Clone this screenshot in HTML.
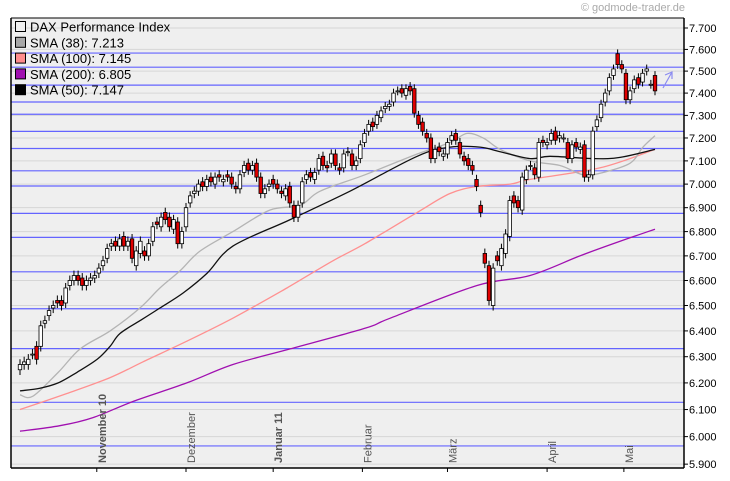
<!DOCTYPE html>
<html><head><meta charset="utf-8">
<style>
html,body{margin:0;padding:0;background:#fff;overflow:hidden;}
svg{display:block;font-family:"Liberation Sans",Arial,sans-serif;}
</style></head>
<body>
<svg id="chart" width="730" height="481" viewBox="0 0 730 481" xmlns="http://www.w3.org/2000/svg">
<rect x="0" y="0" width="730" height="481" fill="#ffffff"/>
<rect x="11" y="18" width="673" height="450" fill="#efefef"/>
<g id="grid"></g>
<g id="levels"></g>
<g id="smas"></g>
<g id="candles"></g>
<g id="axes"></g>
<text x="685" y="11" font-size="11" fill="#aaaaaa" text-anchor="end">© godmode-trader.de</text>
<path d="M663,88 L672,72 M665,75 L672,72 L672,79" stroke="#8c8cf0" stroke-width="1.2" fill="none"/>
<g id="legend"></g>
</svg>
<script>
const yTicks=[7.7,7.6,7.5,7.4,7.3,7.2,7.1,7.0,6.9,6.8,6.7,6.6,6.5,6.4,6.3,6.2,6.1,6.0,5.9];
const levelValues=[7.583,7.518,7.436,7.360,7.305,7.229,7.154,7.057,6.992,6.876,6.776,6.635,6.487,6.331,6.127,5.966];
const months=["November 10","Dezember","Januar 11","Februar","März","April","Mai"];
const monthIndex=[18.5,40,61,82.5,103,127,145.5];
const monthBold=[true,false,true,false,false,false,false];
const closes=[6.27,6.28,6.29,6.31,6.29,6.42,6.44,6.48,6.50,6.51,6.50,6.57,6.60,6.62,6.60,6.58,6.60,6.61,6.62,6.65,6.68,6.73,6.75,6.74,6.77,6.74,6.76,6.69,6.72,6.76,6.70,6.75,6.82,6.83,6.86,6.85,6.82,6.85,6.75,6.80,6.90,6.95,6.97,7.00,6.99,7.02,7.01,7.03,7.03,7.02,7.03,7.00,6.98,7.04,7.08,7.06,7.08,7.03,6.96,6.98,7.00,7.00,6.98,6.96,6.98,6.92,6.86,6.91,7.01,7.04,7.03,7.05,7.11,7.08,7.07,7.13,7.08,7.06,7.13,7.14,7.08,7.10,7.17,7.22,7.26,7.25,7.30,7.32,7.34,7.35,7.40,7.41,7.40,7.42,7.41,7.31,7.26,7.23,7.20,7.11,7.15,7.14,7.13,7.18,7.21,7.19,7.13,7.10,7.08,7.06,6.99,6.88,6.67,6.52,6.65,6.68,6.73,6.79,6.93,6.92,6.90,7.03,7.06,7.08,7.04,7.18,7.18,7.18,7.22,7.19,7.21,7.20,7.11,7.17,7.16,7.16,7.03,7.04,7.23,7.28,7.35,7.40,7.47,7.51,7.53,7.51,7.37,7.41,7.46,7.44,7.49,7.51,7.44,7.41];
const opens=[6.25,6.27,6.27,6.31,6.34,6.34,6.43,6.46,6.49,6.52,6.52,6.51,6.58,6.60,6.62,6.61,6.58,6.60,6.61,6.63,6.66,6.69,6.74,6.76,6.74,6.78,6.74,6.77,6.66,6.71,6.72,6.70,6.76,6.84,6.82,6.88,6.86,6.81,6.84,6.75,6.82,6.92,6.96,6.97,7.01,6.99,7.03,7.00,7.04,7.01,7.04,7.03,6.99,6.98,7.05,7.09,7.06,7.09,7.03,6.96,6.99,7.02,7.00,6.97,6.95,6.99,6.91,6.86,6.92,7.02,7.05,7.02,7.06,7.12,7.08,7.09,7.13,7.07,7.07,7.14,7.13,7.08,7.11,7.18,7.23,7.27,7.26,7.29,7.33,7.34,7.36,7.41,7.42,7.39,7.43,7.42,7.30,7.27,7.22,7.20,7.11,7.16,7.12,7.13,7.19,7.22,7.18,7.12,7.11,7.08,7.02,6.91,6.71,6.66,6.50,6.70,6.66,6.71,6.78,6.95,6.93,6.89,7.02,7.08,7.07,7.03,7.19,7.17,7.19,7.23,7.20,7.20,7.18,7.11,7.18,7.15,7.17,7.03,7.04,7.25,7.29,7.36,7.41,7.48,7.58,7.53,7.49,7.37,7.42,7.47,7.45,7.50,7.44,7.48];
const highs=closes.map((c,i)=>Math.max(c,opens[i])+0.02);
const lows=closes.map((c,i)=>Math.min(c,opens[i])-0.02);
const sma38X=[0,3.1,9.2,14.5,21.7,28.9,33.7,38.6,43.4,51.3,60.2,67.5,72.3,83.1,95.7,103.6,107.7,111.6,115.7,122.9,130.1,135.7,140.5,147,150.1,153];
const sma38=[6.155,6.15,6.24,6.33,6.40,6.49,6.57,6.64,6.72,6.80,6.89,6.91,6.97,7.04,7.13,7.18,7.22,7.20,7.15,7.10,7.08,7.04,7.05,7.09,7.16,7.21];
const sma50X=[0,4.8,9.2,13.7,18.6,21.7,24.1,28.9,33.7,39.3,45.1,51.3,65.1,79.5,95.7,103.6,110.8,115.7,122.9,127.7,138.1,144.6,153];
const sma50=[6.17,6.18,6.20,6.24,6.29,6.34,6.39,6.44,6.49,6.55,6.63,6.74,6.85,6.97,7.12,7.16,7.16,7.14,7.11,7.12,7.11,7.115,7.15];
const sma100X=[0,11.3,21.7,29.6,40.2,51.3,64.3,75.4,83.1,95.7,103.6,110.1,118.1,122.9,139.8,153];
const sma100=[6.10,6.16,6.22,6.28,6.36,6.45,6.57,6.68,6.75,6.88,6.96,6.99,7.00,7.02,7.07,7.15];
const sma200X=[0,9.6,17.6,27.2,40.2,51.3,65.1,83.1,89.2,110.1,122.9,134.9,144.6,153];
const sma200=[6.02,6.04,6.07,6.13,6.20,6.27,6.33,6.41,6.45,6.58,6.62,6.70,6.76,6.81];

const NS="http://www.w3.org/2000/svg";
const L=11,R=684,T=18,B=468;
const x0=20,x1=655;
function xs(i){return x0+(x1-x0)*i/(closes.length-1);}
function ys(v){return 28+1638*(Math.log(7.7)-Math.log(v));}
function mk(tag,attrs,parent){const e=document.createElementNS(NS,tag);for(const k in attrs)e.setAttribute(k,attrs[k]);parent.appendChild(e);return e;}

const grid=document.getElementById('grid');
const axes=document.getElementById('axes');
yTicks.forEach(v=>{
  const y=ys(v);
  const g=mk('line',{x1:L,x2:R,y1:y,y2:y,stroke:'#d6d6d6','stroke-width':1},grid);
  
  
  const t=mk('line',{x1:R,x2:R+4,y1:y,y2:y,stroke:'#000','stroke-width':1},axes);
  
  
  const lb=mk('text',{x:689,y:y+4,'font-size':11,fill:'#000'},axes);
  lb.textContent=v.toFixed(3);
  
  
});
const lev=document.getElementById('levels');
levelValues.forEach(v=>{
  const y=ys(v);
  const l=mk('line',{x1:L,x2:R,y1:y,y2:y,stroke:'#6464ff','stroke-width':1.2},lev);
  
  
});
const sm=document.getElementById('smas');
function drawSma(X,V,color,w,name){
  const P=X.map((i,k)=>[xs(i),ys(V[k])]);
  let d='M'+P[0][0].toFixed(1)+','+P[0][1].toFixed(1);
  for(let k=0;k<P.length-1;k++){
    const p0=P[Math.max(0,k-1)],p1=P[k],p2=P[k+1],p3=P[Math.min(P.length-1,k+2)];
    const c1=[p1[0]+(p2[0]-p0[0])/6,p1[1]+(p2[1]-p0[1])/6];
    const c2=[p2[0]-(p3[0]-p1[0])/6,p2[1]-(p3[1]-p1[1])/6];
    d+=' C'+c1.map(n=>n.toFixed(1)).join(',')+' '+c2.map(n=>n.toFixed(1)).join(',')+' '+p2.map(n=>n.toFixed(1)).join(',');
  }
  const p=mk('path',{d:d,fill:'none',stroke:color,'stroke-width':w,'stroke-linejoin':'round'},sm);
  
  
}
drawSma(sma200X,sma200,'#a010b0',1.3,'sma-200-line');
drawSma(sma100X,sma100,'#ff9090',1.3,'sma-100-line');
drawSma(sma38X,sma38,'#b4b4b4',1.3,'sma-38-line');
drawSma(sma50X,sma50,'#111111',1.3,'sma-50-line');

const cg=document.getElementById('candles');
closes.forEach((c,i)=>{
  const x=xs(i),o=opens[i];
  const w=mk('line',{x1:x,x2:x,y1:ys(highs[i]),y2:ys(lows[i]),stroke:'#000','stroke-width':1},cg);
  
  
  const top=ys(Math.max(o,c)),bot=ys(Math.min(o,c));
  const r=mk('rect',{x:x-1.75,y:top,width:3.5,height:Math.max(1,bot-top),fill:c>=o?'#ffffff':'#e00000',stroke:'#000','stroke-width':0.8},cg);
  
  
});

mk('line',{x1:L,x2:R,y1:T,y2:T,stroke:'#000','stroke-width':1},axes);
mk('line',{x1:L,x2:L,y1:T,y2:B,stroke:'#000','stroke-width':1.5},axes);
mk('line',{x1:R,x2:R,y1:T,y2:B,stroke:'#000','stroke-width':1.5},axes);
mk('line',{x1:L,x2:R,y1:B,y2:B,stroke:'#000','stroke-width':1.5},axes);
months.forEach((m,k)=>{
  const x=xs(monthIndex[k]);
  const t=mk('line',{x1:x,x2:x,y1:B,y2:B+4,stroke:'#000','stroke-width':1},axes);
  
  
  const lb=mk('text',{x:0,y:0,'font-size':11,fill:'#555','text-anchor':'start','font-weight':monthBold[k]?'bold':'normal',transform:'translate('+(x+9)+',463) rotate(-90)'},axes);
  lb.textContent=m;
  
  
});

const legendItems=["DAX Performance Index","SMA (38): 7.213","SMA (100): 7.145","SMA (200): 6.805","SMA (50): 7.147"];
const legendColors=["#efefef","#a8a8a8","#ff8c8c","#a010b0","#000000"];
const lg=document.getElementById('legend');
legendItems.forEach((s,k)=>{
  const y=27+k*15.8;
  const b=mk('rect',{x:15.5,y:y-5.5,width:10,height:10,fill:legendColors[k],stroke:'#000','stroke-width':1},lg);
  
  
  const t=mk('text',{x:30,y:y+4.5,'font-size':13,fill:'#000'},lg);
  t.textContent=s;
  
  
});
</script>
</body></html>
